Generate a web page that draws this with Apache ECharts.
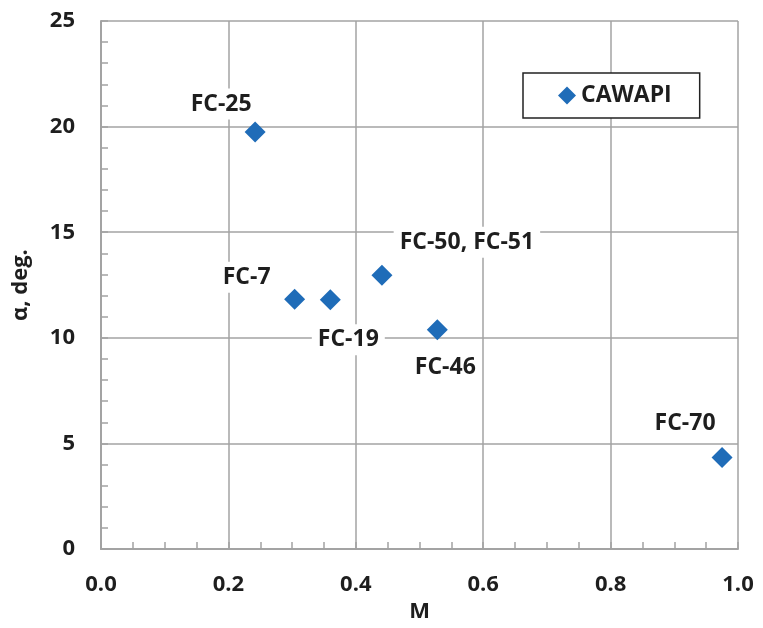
<!DOCTYPE html>
<html><head><meta charset="utf-8">
<script src="https://cdn.jsdelivr.net/npm/echarts@6/dist/echarts.min.js"></script>
<style>html,body{margin:0;padding:0;background:#fff;overflow:hidden}#c{width:763px;height:628px}</style>
</head><body><div id="c"></div>
<script>
const caseNames = ['FC-25', 'FC-7', 'FC-19', 'FC-50, FC-51', 'FC-46', 'FC-70'];
const machValues = [0.242, 0.304, 0.360, 0.441, 0.528, 0.975];
const alphaValues = [19.74, 11.83, 11.80, 12.96, 10.38, 4.34];
const seriesName = 'CAWAPI';

const labelOffsets = [[-34,-28],[-48,-22],[18,40],[85,-33],[8,38],[-37,-34]];
const font = 'Open Sans';
const gray = '#a3a3a3';
const ink = '#1e1e1e';

const data = caseNames.map((n,i)=>({value:[machValues[i], alphaValues[i]], name:n}));

const chart = echarts.init(document.getElementById('c'));
chart.setOption({
  animation:false,
  grid:{left:101,right:25,top:21,bottom:66},
  legend:{
    data:[seriesName], left:523, top:73, orient:'horizontal',
    padding:[11,28,11,35], borderColor:'#222', borderWidth:1.5, backgroundColor:'#fff',
    itemWidth:18, itemHeight:18, itemGap:6,
    textStyle:{fontFamily:font,fontWeight:'bold',fontSize:23,color:ink}
  },
  xAxis:{
    type:'value', min:0, max:1, interval:0.2,
    name:'M', nameLocation:'middle', nameGap:47,
    nameTextStyle:{fontFamily:font,fontWeight:'bold',fontSize:22,color:ink},
    axisLine:{show:true,lineStyle:{color:gray,width:2}},
    axisTick:{show:true,inside:true,length:7,lineStyle:{color:gray,width:1.5}},
    minorTick:{show:true,splitNumber:4,length:7,lineStyle:{color:gray,width:1.5}},
    splitLine:{show:true,lineStyle:{color:gray,width:1.5}},
    axisLabel:{fontFamily:font,fontWeight:'bold',fontSize:22,color:ink,margin:25,formatter:v=>v.toFixed(1)}
  },
  yAxis:{
    type:'value', min:0, max:25, interval:5,
    name:'α, deg.', nameLocation:'middle', nameGap:69, nameRotate:90,
    nameTextStyle:{fontFamily:font,fontWeight:'bold',fontSize:22,color:ink},
    axisLine:{show:true,lineStyle:{color:gray,width:2}},
    axisTick:{show:true,inside:true,length:7,lineStyle:{color:gray,width:1.5}},
    minorTick:{show:true,splitNumber:5,length:7,lineStyle:{color:gray,width:1.5}},
    splitLine:{show:true,lineStyle:{color:gray,width:1.5}},
    axisLabel:{fontFamily:font,fontWeight:'bold',fontSize:22,color:ink,margin:26}
  },
  series:[{
    name:seriesName, type:'scatter', symbol:'diamond', symbolSize:[21,21],
    itemStyle:{color:'#1f6cb8',opacity:1},
    data:data,
    label:{show:true,position:'inside',formatter:p=>p.name,
      fontFamily:font,fontWeight:'bold',fontSize:23,color:ink,
      backgroundColor:'#fff',padding:[4,6]},
    labelLayout:p=>({dx:labelOffsets[p.dataIndex][0],dy:labelOffsets[p.dataIndex][1],hideOverlap:false}),
    emphasis:{disabled:true}
  }]
});
</script></body></html>
